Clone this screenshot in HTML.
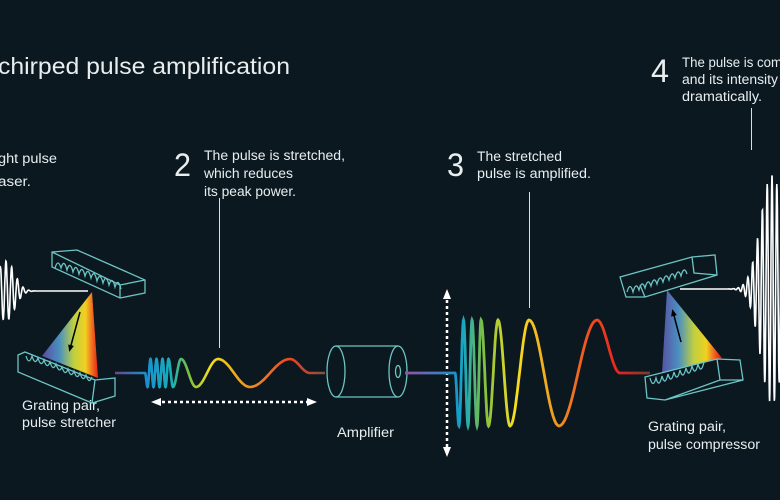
<!DOCTYPE html>
<html><head><meta charset="utf-8"><style>
html,body{margin:0;padding:0;background:#0b1820;}
svg{display:block}
text{font-family:"Liberation Sans",sans-serif;fill:#e8eef0}
</style></head><body>
<svg id="s" width="780" height="500" viewBox="0 0 780 500" xmlns="http://www.w3.org/2000/svg">
<defs>
<linearGradient id="g1" gradientUnits="userSpaceOnUse" x1="115" y1="0" x2="325" y2="0">
<stop offset="0" stop-color="#6a4a8a"/><stop offset="0.15" stop-color="#1a8fd0"/><stop offset="0.27" stop-color="#18b0b8"/><stop offset="0.35" stop-color="#7ac040"/><stop offset="0.45" stop-color="#f0e020"/><stop offset="0.6" stop-color="#f0a020"/><stop offset="0.85" stop-color="#f04020"/><stop offset="1" stop-color="#805040"/>
</linearGradient>
<linearGradient id="g2" gradientUnits="userSpaceOnUse" x1="405" y1="0" x2="650" y2="0">
<stop offset="0" stop-color="#9a50a0"/><stop offset="0.2" stop-color="#1a90d0"/><stop offset="0.24" stop-color="#18a8c0"/><stop offset="0.32" stop-color="#80c040"/><stop offset="0.45" stop-color="#f8e020"/><stop offset="0.6" stop-color="#f0a020"/><stop offset="0.75" stop-color="#f05020"/><stop offset="0.88" stop-color="#e82020"/><stop offset="1" stop-color="#704030"/>
</linearGradient>
<linearGradient id="sp1" gradientUnits="userSpaceOnUse" x1="42" y1="0" x2="100" y2="0">
<stop offset="0" stop-color="#5a4aa0"/><stop offset="0.3" stop-color="#4a90c0"/><stop offset="0.55" stop-color="#c0d040"/><stop offset="0.75" stop-color="#f0d020"/><stop offset="0.88" stop-color="#f06020"/><stop offset="1" stop-color="#e01010"/>
</linearGradient>
<linearGradient id="sp2" gradientUnits="userSpaceOnUse" x1="660" y1="0" x2="722" y2="0">
<stop offset="0" stop-color="#5a4aa0"/><stop offset="0.3" stop-color="#4a90c0"/><stop offset="0.55" stop-color="#c0d040"/><stop offset="0.75" stop-color="#f0d020"/><stop offset="0.88" stop-color="#f06020"/><stop offset="1" stop-color="#e01010"/>
</linearGradient>
<marker id="ah" markerUnits="userSpaceOnUse" markerWidth="10" markerHeight="10" refX="5" refY="5" orient="auto-start-reverse"><path d="M0,1 L10,5 L0,9 Z" fill="#fff"/></marker>
<marker id="bh" markerUnits="userSpaceOnUse" markerWidth="8" markerHeight="8" refX="4" refY="4" orient="auto"><path d="M0,1 L7,4 L0,7 Z" fill="#000"/></marker>
</defs>

<text x="-2" y="74" font-size="23" textLength="292" lengthAdjust="spacingAndGlyphs">chirped pulse amplification</text>
<text x="-2" y="163" font-size="13.5" textLength="59" lengthAdjust="spacingAndGlyphs">ght pulse</text>
<text x="-2" y="186" font-size="13.5" textLength="33" lengthAdjust="spacingAndGlyphs">aser.</text>
<text x="174" y="176" font-size="32" textLength="17" lengthAdjust="spacingAndGlyphs">2</text>
<text x="204" y="160" font-size="13.5" textLength="141" lengthAdjust="spacingAndGlyphs">The pulse is stretched,</text>
<text x="204" y="178" font-size="13.5" textLength="89" lengthAdjust="spacingAndGlyphs">which reduces</text>
<text x="204" y="196" font-size="13.5" textLength="92" lengthAdjust="spacingAndGlyphs">its peak power.</text>
<text x="447" y="176" font-size="32" textLength="17" lengthAdjust="spacingAndGlyphs">3</text>
<text x="477" y="161" font-size="13.5" textLength="85" lengthAdjust="spacingAndGlyphs">The stretched</text>
<text x="477" y="178" font-size="13.5" textLength="114" lengthAdjust="spacingAndGlyphs">pulse is amplified.</text>
<text x="651" y="82" font-size="32" textLength="18" lengthAdjust="spacingAndGlyphs">4</text>
<text x="682" y="67" font-size="13.5" textLength="100" lengthAdjust="spacingAndGlyphs">The pulse is com</text>
<text x="682" y="84" font-size="13.5" textLength="96" lengthAdjust="spacingAndGlyphs">and its intensity</text>
<text x="682" y="101" font-size="13.5" textLength="80" lengthAdjust="spacingAndGlyphs">dramatically.</text>
<text x="22" y="410" font-size="13.5" textLength="78" lengthAdjust="spacingAndGlyphs">Grating pair,</text>
<text x="22" y="427" font-size="13.5" textLength="94" lengthAdjust="spacingAndGlyphs">pulse stretcher</text>
<text x="337" y="437" font-size="13.5" textLength="57" lengthAdjust="spacingAndGlyphs">Amplifier</text>
<text x="648" y="431" font-size="13.5" textLength="78" lengthAdjust="spacingAndGlyphs">Grating pair,</text>
<text x="648" y="449" font-size="13.5" textLength="112" lengthAdjust="spacingAndGlyphs">pulse compressor</text>

<line x1="219.5" y1="198" x2="219.5" y2="348" stroke="#ddd" stroke-width="1"/>
<line x1="529.5" y1="192" x2="529.5" y2="308" stroke="#ddd" stroke-width="1"/>
<line x1="751.5" y1="108" x2="751.5" y2="150" stroke="#ddd" stroke-width="1"/>

<polygon points="92,292 42,356 98,378" fill="url(#sp1)"/>
<line x1="80" y1="312" x2="70" y2="349" stroke="#000" stroke-width="1.5" marker-end="url(#bh)"/>
<g fill="none" stroke="#6cc4c4" stroke-width="1.3">
<path d="M52,252 L77,250 L145,280 L145,293 L120,298 L52,267 Z M120,298 L120,285 L145,280 M52,252 L120,285"/>
<path d="M55,268 q3,-10 6,0 q3,-10 6,2 q3,-10 6,2 q3,-10 6,2 q3,-10 6,2 q3,-10 6,2 q3,-10 6,3 q3,-10 6,2 q3,-10 6,2 q3,-10 6,2 q3,-10 6,2"/>
<path d="M18,355 L25,352 L95,380 L115,378 L115,396 L92,403 L18,372 Z M95,380 L92,403 M95,380 L25,352"/>
<path d="M26,356 q3,10 6,0 q3,10 6,2 q3,10 6,2 q3,10 6,2 q3,10 6,2 q3,10 6,3 q3,10 6,2 q3,10 6,2 q3,10 6,2 q3,10 6,2 q3,10 6,2"/>
</g>
<polygon points="667,290 662,373 722,358" fill="url(#sp2)"/>
<line x1="681" y1="342" x2="673" y2="312" stroke="#000" stroke-width="1.5" marker-end="url(#bh)"/>
<g fill="none" stroke="#6cc4c4" stroke-width="1.3">
<path d="M620,277 L692,257 L715,255 L717,275 L645,297 L626,297 Z M692,257 L694,273 L717,275 M645,297 L640,285"/>
<path d="M627,292 q3,-11 6,0 q3,-11 6,-2 q3,-11 6,-2 q3,-11 6,-2 q3,-11 6,-2 q3,-11 6,-2 q3,-11 6,-2 q3,-11 6,-2 q3,-11 6,-2 q3,-11 6,-2"/>
<path d="M645,377 L717,359 L740,360 L743,380 L665,400 L647,398 Z M717,359 L720,380 L743,380 M720,380 L665,400"/>
<path d="M650,378 q3,11 6,0 q3,11 6,-2 q3,11 6,-2 q3,11 6,-2 q3,11 6,-2 q3,11 6,-2 q3,11 6,-2 q3,11 6,-2 q3,11 6,-2"/>
</g>

<g fill="none" stroke="#6cc4c4" stroke-width="1.3">
<path d="M336,346 L398,346 M336,397 L398,397"/>
<ellipse cx="336" cy="371.5" rx="9" ry="25.5"/>
<ellipse cx="398" cy="371.5" rx="9" ry="25.5" fill="#0b1820"/>
<ellipse cx="398" cy="371.5" rx="2.5" ry="6"/>
</g>

<line x1="156" y1="402" x2="312" y2="402" stroke="#fff" stroke-width="2.5" stroke-dasharray="3,3" marker-start="url(#ah)" marker-end="url(#ah)"/>
<line x1="447" y1="294" x2="447" y2="452" stroke="#fff" stroke-width="2.5" stroke-dasharray="3,3" marker-start="url(#ah)" marker-end="url(#ah)"/>

<path id="w1" fill="none" stroke="url(#g1)" stroke-width="2.6"/>
<path id="w2" fill="none" stroke="url(#g2)" stroke-width="2.8"/>
<path id="p1" fill="none" stroke="#fff" stroke-width="1.6"/>
<path id="p2" fill="none" stroke="#fff" stroke-width="1.6"/>
</svg>
<script>
function ext(x0,y0,pts,amp,xe,ye){
  var d="M"+x0+","+y0;var px=x0,py=y0;
  var list=pts.map(function(x,i){return [x,y0+(i%2==0?amp:-amp)];});
  list.push([xe,ye]);
  for(var i=0;i<list.length;i++){var nx=list[i][0],ny=list[i][1];var N=20;
    for(var k=1;k<=N;k++){var t=k/N;var x=px+(nx-px)*t;var y=py+(ny-py)*(1-Math.cos(Math.PI*t))/2;d+="L"+x.toFixed(1)+","+y.toFixed(1);}
    px=nx;py=ny;}
  return d;}
var d1="M115,373 L145,373 "+ext(145,373,[147.5,150.5,153.5,156.5,159.5,162.5,165.5,168.5,173,181,196,218,250,290],14,310,373).replace("M","L")+" L325,373";
document.getElementById("w1").setAttribute("d",d1);
var d2="M405,373 L455,373 "+ext(455,373,[459,463.5,468,472,477,481,488.5,498,510,529,559,597],53,620,373).replace("M","L")+" L650,373";
document.getElementById("w2").setAttribute("d",d2);
function burst(x0,x1,y,amp,f,center,width){var d="";for(var i=0;i<=400;i++){var x=x0+(x1-x0)*i/400;var e=Math.exp(-Math.pow((x-center)/width,2));var yy=y-amp*e*Math.cos(f*(x-center));d+=(i?"L":"M")+x.toFixed(1)+","+yy.toFixed(1);}return d;}
document.getElementById("p1").setAttribute("d",burst(0,88,291,30,1.1,6,12));
document.getElementById("p2").setAttribute("d",burst(680,790,289,115,1.3,772,16));
</script>
</body></html>
